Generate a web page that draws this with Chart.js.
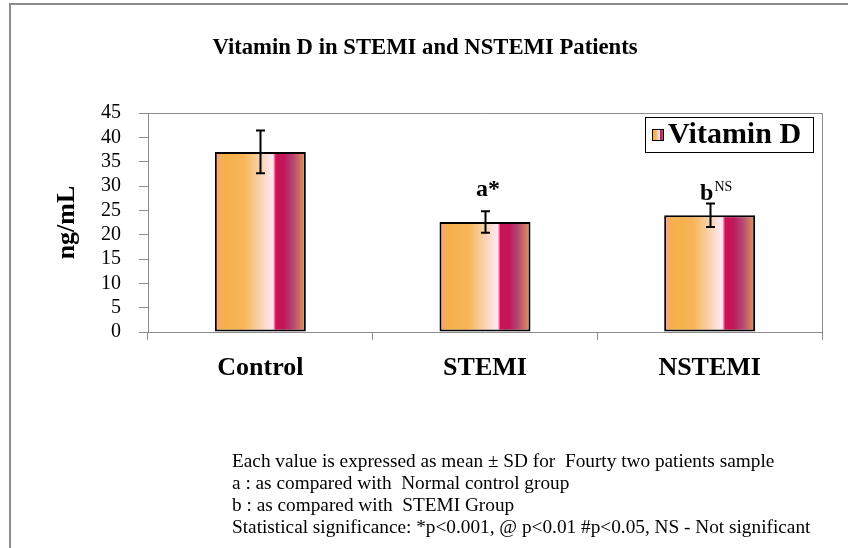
<!DOCTYPE html>
<html>
<head>
<meta charset="utf-8">
<script src="https://cdn.jsdelivr.net/npm/chart.js@4.4.1/dist/chart.umd.min.js"></script>
<style>
html,body{margin:0;padding:0;background:#fff;}
#wrap{position:relative;width:848px;height:548px;}
</style>
</head>
<body>
<div id="wrap"><canvas id="c" width="848" height="548"></canvas></div>
<script>
const categories = ['Control', 'STEMI', 'NSTEMI'];
const vitaminD = [37, 22.6, 24];
const vitaminDSD = [4.4, 2.2, 2.4];
const significance = ['a*', 'b'];
const significanceIndex = [1, 2];
const significanceSup = ['', 'NS'];
const yTicks = [0, 5, 10, 15, 20, 25, 30, 35, 40, 45];
const seriesName = 'Vitamin D';
const chartTitle = 'Vitamin D in STEMI and NSTEMI Patients';
const yTitle = 'ng/mL';
const footnotes = [
  'Each value is expressed as mean \u00B1 SD for  Fourty two patients sample',
  'a : as compared with  Normal control group',
  'b : as compared with  STEMI Group',
  'Statistical significance: *p<0.001, @ p<0.01 #p<0.05, NS - Not significant'
];

const SERIF = '"Liberation Serif", "Times New Roman", serif';
const BAR_FRAC = 0.405;

function barGradient(ctx2d, x0, x1) {
  const g = ctx2d.createLinearGradient(x0, 0, x1, 0);
  g.addColorStop(0.00, '#f29cb8');
  g.addColorStop(0.06, '#f4ad5a');
  g.addColorStop(0.12, '#f6b04a');
  g.addColorStop(0.32, '#f7b557');
  g.addColorStop(0.48, '#f9d0a4');
  g.addColorStop(0.60, '#fde3e2');
  g.addColorStop(0.64, '#ffe9ef');
  g.addColorStop(0.67, '#cc1254');
  g.addColorStop(0.76, '#c3165a');
  g.addColorStop(0.86, '#b44676');
  g.addColorStop(1.00, '#e59656');
  return g;
}

const decorPlugin = {
  id: 'decor',
  beforeDraw(chart) {
    const c = chart.ctx;
    c.save();
    c.fillStyle = '#ffffff';
    c.fillRect(0, 0, chart.width, chart.height);
    c.strokeStyle = '#8c8c8c';
    c.lineWidth = 2;
    c.beginPath();
    c.moveTo(10, 560);
    c.lineTo(10, 4);
    c.lineTo(860, 4);
    c.stroke();
    c.fillStyle = '#000';
    c.font = 'bold 22.7px ' + SERIF;
    c.textAlign = 'center';
    c.textBaseline = 'middle';
    c.fillText(chartTitle, 425, 48);
    c.font = '19.3px ' + SERIF;
    c.textAlign = 'left';
    footnotes.forEach((t, i) => c.fillText(t, 232, 462 + i * 22));
    c.restore();
  },
  beforeDatasetsDraw(chart) {
    const a = chart.chartArea, c = chart.ctx;
    c.save();
    c.strokeStyle = '#8c8c8c';
    c.lineWidth = 1;
    c.beginPath();
    c.moveTo(a.left, a.top + 0.5);
    c.lineTo(a.right + 0.5, a.top + 0.5);
    c.lineTo(a.right + 0.5, a.bottom);
    c.stroke();
    c.restore();
  },
  afterDatasetsDraw(chart) {
    const c = chart.ctx, y = chart.scales.y;
    const meta = chart.getDatasetMeta(0);
    c.save();
    c.strokeStyle = '#000';
    c.lineWidth = 2;
    meta.data.forEach((bar, i) => {
      const x = Math.round(bar.x) + 0.5;
      const yt = y.getPixelForValue(vitaminD[i] + vitaminDSD[i]);
      const yb = y.getPixelForValue(vitaminD[i] - vitaminDSD[i]);
      c.beginPath();
      c.moveTo(x, yt); c.lineTo(x, yb);
      c.moveTo(x - 4.5, yt); c.lineTo(x + 4.5, yt);
      c.moveTo(x - 4.5, yb); c.lineTo(x + 4.5, yb);
      c.stroke();
    });
    const gaps = [15, 4];
    const shifts = [3, 6];
    significanceIndex.forEach((i, k) => {
      const bar = meta.data[i];
      const yt = y.getPixelForValue(vitaminD[i] + vitaminDSD[i]);
      const ly = yt - gaps[k];
      c.fillStyle = '#000';
      c.textBaseline = 'alphabetic';
      c.font = 'bold 24px ' + SERIF;
      const w1 = c.measureText(significance[k]).width;
      c.font = '14px ' + SERIF;
      const w2 = significanceSup[k] ? c.measureText(significanceSup[k]).width : 0;
      const sx = bar.x + shifts[k] - (w1 + w2) / 2;
      c.font = 'bold 24px ' + SERIF;
      c.textAlign = 'left';
      c.fillText(significance[k], sx, ly);
      if (significanceSup[k]) {
        c.font = '14px ' + SERIF;
        c.fillText(significanceSup[k], sx + w1 + 1, ly - 9);
      }
    });
    const lx = 645, ly = 117, lw = 168, lh = 35;
    c.lineWidth = 1;
    c.strokeStyle = '#000';
    c.fillStyle = '#fff';
    c.fillRect(lx, ly, lw, lh);
    c.strokeRect(lx + 0.5, ly + 0.5, lw, lh);
    const ix = 652, iy = 129, is = 12;
    c.fillStyle = barGradient(c, ix, ix + is);
    c.fillRect(ix, iy, is, is);
    c.strokeRect(ix + 0.5, iy + 0.5, is - 1, is - 1);
    c.fillStyle = '#000';
    c.font = 'bold 30px ' + SERIF;
    c.textAlign = 'left';
    c.textBaseline = 'middle';
    c.fillText(seriesName, 668, ly + lh / 2 + 1);
    c.restore();
  }
};

new Chart(document.getElementById('c'), {
  type: 'bar',
  data: {
    labels: categories,
    datasets: [{
      label: seriesName,
      data: vitaminD,
      backgroundColor(ctx) {
        const chart = ctx.chart;
        const xs = chart.scales && chart.scales.x;
        const i = ctx.dataIndex;
        if (!xs || i === undefined) return '#f6b04a';
        const cx = xs.getPixelForValue(i);
        const w = (xs.width / categories.length) * BAR_FRAC;
        if (!isFinite(cx) || !isFinite(w) || w <= 0) return '#f6b04a';
        return barGradient(chart.ctx, cx - w / 2, cx + w / 2);
      },
      borderColor: '#000',
      borderWidth: 2,
      borderSkipped: false,
      barPercentage: BAR_FRAC,
      categoryPercentage: 1
    }]
  },
  options: {
    responsive: false,
    animation: false,
    devicePixelRatio: 1,
    layout: { padding: { left: 10, top: 113, right: 26, bottom: 156 } },
    plugins: {
      legend: { display: false },
      title: { display: false },
      tooltip: { enabled: false }
    },
    scales: {
      x: {
        afterFit(s) { s.height = 60; },
        grid: { display: true, drawOnChartArea: false, drawTicks: true, tickLength: 8, color: '#8c8c8c', offset: true },
        border: { display: true, color: '#8c8c8c', width: 1 },
        ticks: { color: '#000', font: { family: SERIF, size: 26, weight: 'bold' }, padding: 13, maxRotation: 0, autoSkip: false }
      },
      y: {
        min: 0, max: 45,
        afterFit(s) { s.width = 138; },
        afterBuildTicks(s) { s.ticks = yTicks.map(v => ({ value: v })); },
        grid: { display: true, drawOnChartArea: false, drawTicks: true, tickLength: 9, color: '#8c8c8c' },
        border: { display: true, color: '#8c8c8c', width: 1 },
        ticks: { color: '#000', font: { family: SERIF, size: 20 }, padding: 18, autoSkip: false, stepSize: 5 },
        title: { display: true, text: yTitle, color: '#000', font: { family: SERIF, size: 26, weight: 'bold' }, padding: { top: 42, bottom: 0 } }
      }
    }
  },
  plugins: [decorPlugin]
});
</script>
</body>
</html>
